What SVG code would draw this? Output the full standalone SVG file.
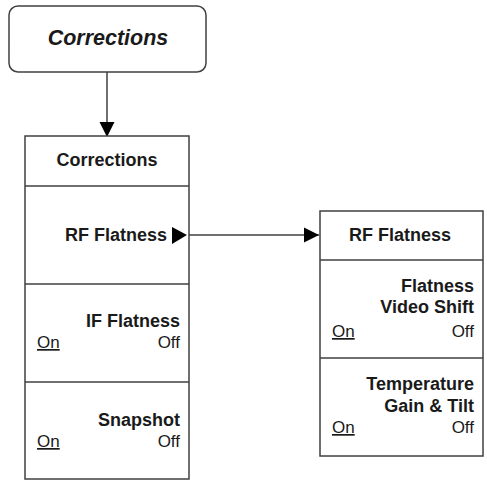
<svg xmlns="http://www.w3.org/2000/svg" width="487" height="483" viewBox="0 0 487 483">
<defs>
<style>
.box{fill:#fff;stroke:#404040;stroke-width:1.5}
.ln{stroke:#404040;stroke-width:1.5;fill:none}
.t{font-family:"Liberation Sans",Arial,sans-serif;font-size:17px;fill:#1a1a1a}
.b{font-weight:bold;font-size:18px}
.r{text-anchor:end}
.m{text-anchor:middle}
.u{text-decoration:underline}
</style>
<marker id="ah" viewBox="0 0 10 10" refX="10" refY="5" markerWidth="15" markerHeight="16" markerUnits="userSpaceOnUse" orient="auto">
<path d="M0,0 L10,5 L0,10 Z" fill="#000"/>
</marker>
</defs>
<g id="connectors">
<line class="ln" x1="107" y1="72" x2="107" y2="137" marker-end="url(#ah)"/>
<line class="ln" x1="186" y1="235" x2="319" y2="235" marker-end="url(#ah)"/>
</g>
<g id="top">
<rect class="box" x="9" y="6" width="197" height="66" rx="9"/>
<text class="t b m" x="108" y="45" style="font-size:21.5px;font-style:italic">Corrections</text>
</g>
<g id="left-menu">
<rect class="box" x="25" y="136" width="164" height="343"/>
<line class="ln" x1="25" y1="186" x2="189" y2="186"/>
<line class="ln" x1="25" y1="284" x2="189" y2="284"/>
<line class="ln" x1="25" y1="382" x2="189" y2="382"/>
<text class="t b m" x="107" y="166">Corrections</text>
<text class="t b r" x="167" y="241">RF Flatness</text>
<path d="M172,227 L187,235 L172,244 Z" fill="#000"/>
<text class="t b r" x="180" y="327">IF Flatness</text>
<text class="t u" x="37" y="348">On</text>
<text class="t r" x="180" y="348">Off</text>
<text class="t b r" x="180" y="426">Snapshot</text>
<text class="t u" x="37" y="447">On</text>
<text class="t r" x="180" y="447">Off</text>
</g>
<g id="right-menu">
<rect class="box" x="320" y="211" width="163" height="245"/>
<line class="ln" x1="320" y1="260" x2="483" y2="260"/>
<line class="ln" x1="320" y1="358" x2="483" y2="358"/>
<text class="t b m" x="400" y="241">RF Flatness</text>
<text class="t b r" x="474" y="292">Flatness</text>
<text class="t b r" x="474" y="313">Video Shift</text>
<text class="t u" x="332" y="337">On</text>
<text class="t r" x="474" y="337">Off</text>
<text class="t b r" x="474" y="390">Temperature</text>
<text class="t b r" x="474" y="412">Gain &amp; Tilt</text>
<text class="t u" x="332" y="433">On</text>
<text class="t r" x="474" y="433">Off</text>
</g>
</svg>
